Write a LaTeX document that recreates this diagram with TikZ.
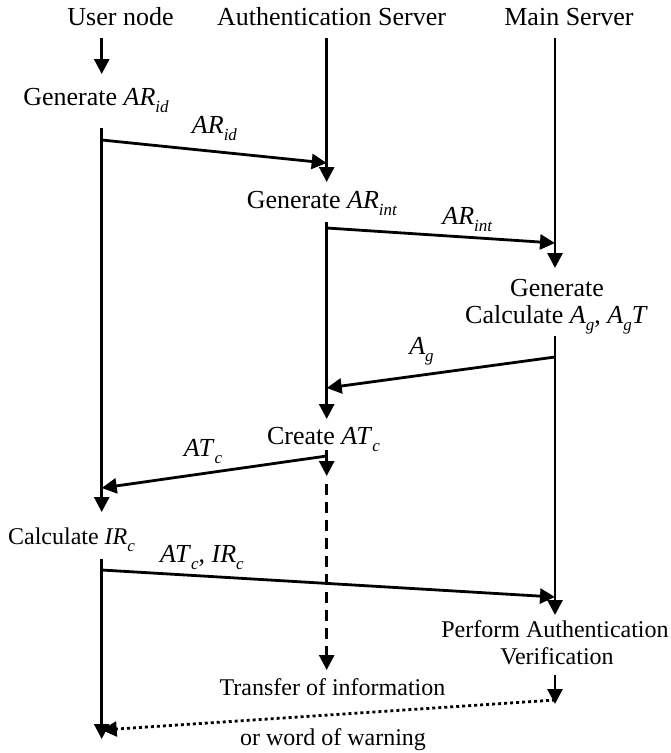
\documentclass[tikz,border=0pt]{standalone}
\usepackage{fontspec}
\setmainfont{Liberation Serif}
\usetikzlibrary{arrows.meta}
\newcommand\bigtxt{\fontsize{26}{30}\selectfont}
\newcommand\smtxt{\fontsize{24}{28}\selectfont}
\newcommand\vi[1]{\textit{#1}}
\newcommand\vsub[2]{\textit{#1}\raisebox{-0.3em}{\fontsize{17}{17}\selectfont\textit{#2}}}
\begin{document}
\begin{tikzpicture}[x=1pt,y=-1pt,
  lbl/.style={inner sep=0pt,anchor=base,font=\bigtxt},
  lbls/.style={inner sep=0pt,anchor=base,font=\smtxt},
  flow/.style={line width=2.8pt,-{Triangle[width=15pt,length=15pt]}},
  dashflow/.style={flow,dash pattern=on 11pt off 7pt},
  dotflow/.style={flow,dash pattern=on 3pt off 3pt}]
\useasboundingbox (0,0) rectangle (671,753);
% lane x positions
\def\U{101.7}\def\A{326.7}\def\M{555}
% headers
\node[lbl] (hu) at (120.5,25) {User node};
\node[lbl] (ha) at (331.5,25) {Authentication Server};
\node[lbl] (hm) at (569,25) {Main Server};
% step texts
\node[lbl] (genid) at (96,105) {Generate \vsub{AR}{id}};
\node[lbl] (genint) at (322,208) {Generate \vsub{AR}{int}};
\node[lbl] (gen) at (557,296) {Generate};
\node[lbl] (calcag) at (556.5,323) {Calculate \vsub{A}{g}, \vsub{A}{g}\vi{T}};
\node[lbl] (create) at (323.5,444) {Create \vsub{AT}{c}};
\node[lbls] (calcir) at (71.5,544) {Calculate \vsub{IR}{c}};
\node[lbls] (perf) at (555,637) {Perform Authentication};
\node[lbls] (verif) at (557,664) {Verification};
\node[lbls] (transfer) at (332.5,695) {Transfer of information};
\node[lbls] (warn) at (333,745) {or word of warning};
% message labels
\node[lbl] (mid) at (214.5,133) {\vsub{AR}{id}};
\node[lbl] (mint) at (467.5,224) {\vsub{AR}{int}};
\node[lbl] (mag) at (421.5,354) {\vsub{A}{g}};
\node[lbl] (matc) at (203,456) {\vsub{AT}{c}};
\node[lbl] (matir) at (202,562) {\vsub{AT}{c}, \vsub{IR}{c}};
% lifeline points
\coordinate (u0) at (\U,38);  \coordinate (u1) at (\U,74);
\coordinate (u2) at (\U,128); \coordinate (u3) at (\U,512);
\coordinate (u4) at (\U,559); \coordinate (u5) at (\U,739);
\coordinate (a0) at (\A,38);  \coordinate (a1) at (\A,182);
\coordinate (a2) at (\A,222); \coordinate (a3) at (\A,419);
\coordinate (a4) at (\A,450); \coordinate (a5) at (\A,476);
\coordinate (a6) at (\A,484); \coordinate (a7) at (\A,670);
\coordinate (m0) at (\M,38);  \coordinate (m1) at (\M,268);
\coordinate (m2) at (\M,336); \coordinate (m3) at (\M,615);
\coordinate (m4) at (\M,675); \coordinate (m5) at (\M,704);
% message endpoints
\coordinate (s1) at (\U,140); \coordinate (e1) at (\A,163);
\coordinate (s2) at (\A,228); \coordinate (e2) at (\M,243);
\coordinate (s3) at (\M,357); \coordinate (e3) at (\A,388);
\coordinate (s4) at (\A,456); \coordinate (e4) at (\U,488);
\coordinate (s5) at (\U,570); \coordinate (e5) at (\M,597);
\coordinate (s6) at (\M,700); \coordinate (e6) at (\U,730);
% lifelines
\draw[flow] (u0) -- (u1);
\draw[flow] (u2) -- (u3);
\draw[flow] (u4) -- (u5);
\draw[flow] (a0) -- (a1);
\draw[flow] (a2) -- (a3);
\draw[flow] (a4) -- (a5);
\draw[dashflow] (a6) -- (a7);
\draw[flow] (m0) -- (m1);
\draw[flow] (m2) -- (m3);
\draw[flow] (m4) -- (m5);
% messages
\draw[flow] (s1) -- (e1);
\draw[flow] (s2) -- (e2);
\draw[flow] (s3) -- (e3);
\draw[flow] (s4) -- (e4);
\draw[flow] (s5) -- (e5);
\draw[dotflow] (s6) -- (e6);
\end{tikzpicture}
\end{document}
